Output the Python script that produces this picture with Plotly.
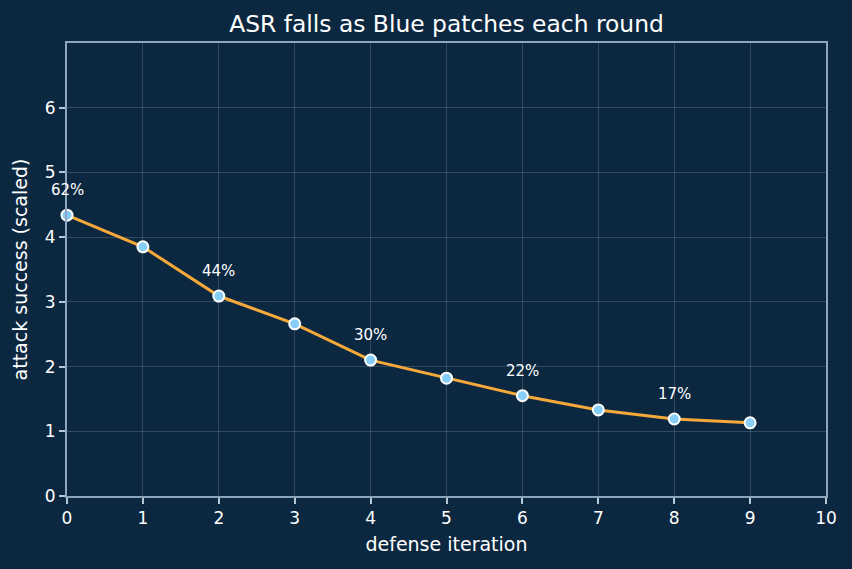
import plotly.graph_objects as go

iterations = [0, 1, 2, 3, 4, 5, 6, 7, 8, 9]
asr_scaled = [4.34, 3.85, 3.09, 2.66, 2.10, 1.82, 1.55, 1.33, 1.19, 1.13]
label_idx = [0, 2, 4, 6, 8]
label_text = ["62%", "44%", "30%", "22%", "17%"]
x_ticks = list(range(0, 11))
y_ticks = list(range(0, 7))

BG = "#0c2840"
fig = go.Figure()
fig.add_trace(go.Scatter(
    x=iterations, y=asr_scaled, mode="lines+markers",
    line=dict(color="#f5a93b", width=3),
    marker=dict(size=11, color="#86cdf7", line=dict(color="white", width=2)),
    showlegend=False, cliponaxis=False,
))
for i, t in zip(label_idx, label_text):
    fig.add_annotation(x=iterations[i], y=asr_scaled[i], text=t, showarrow=False,
                       yshift=25, font=dict(size=15, color="white"))

axis_common = dict(
    showline=True, linecolor="#8ea6bd", linewidth=2, mirror=True,
    gridcolor="rgba(255,255,255,0.16)", gridwidth=1,
    ticks="outside", ticklen=6, tickwidth=2, tickcolor="#b6c8d8",
    tickfont=dict(size=17, color="white"), zeroline=False,
)
fig.update_xaxes(range=[0, 10], tickmode="array", tickvals=x_ticks,
                 title=dict(text="defense iteration", font=dict(size=19, color="white"), standoff=10), **axis_common)
fig.update_yaxes(range=[0, 7], tickmode="array", tickvals=y_ticks,
                 title=dict(text="attack success (scaled)", font=dict(size=19, color="white"), standoff=12), **axis_common)

fig.update_layout(
    width=852, height=569,
    paper_bgcolor=BG, plot_bgcolor=BG,
    font=dict(family="DejaVu Sans", color="white"),
    title=dict(text="ASR falls as Blue patches each round", x=0.5, xref="paper", y=1 - 24 / 569, yref="container",
               yanchor="middle", font=dict(size=23.4, color="white")),
    margin=dict(l=67, r=26, t=43, b=73),
)
fig.write_html("out.html")
